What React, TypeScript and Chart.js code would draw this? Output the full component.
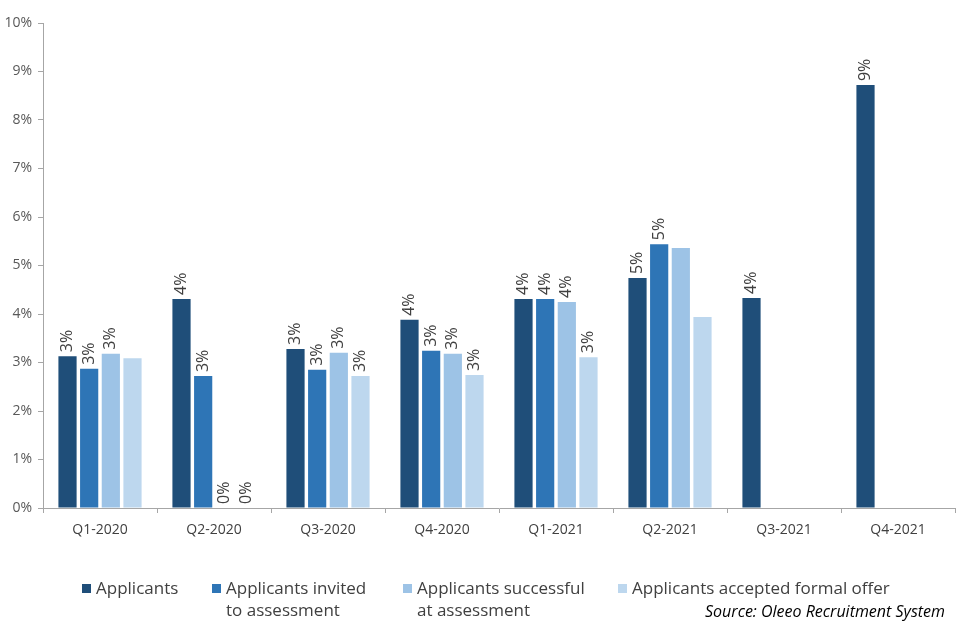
import React, { useEffect, useRef } from "react";
import { Chart, registerables } from "chart.js";

Chart.register(...registerables);

const categories = ["Q1-2020", "Q2-2020", "Q3-2020", "Q4-2020", "Q1-2021", "Q2-2021", "Q3-2021", "Q4-2021"];
const seriesNames = [
  ["Applicants"],
  ["Applicants invited", "to assessment"],
  ["Applicants successful", "at assessment"],
  ["Applicants accepted formal offer"],
];
const seriesColors = ["#1F4E79", "#2E75B6", "#9DC3E6", "#BDD7EE"];
const applicants = [3.13, 4.31, 3.28, 3.88, 4.31, 4.74, 4.33, 8.72];
const invited = [2.87, 2.72, 2.85, 3.24, 4.31, 5.44, null, null];
const successful = [3.18, 0, 3.2, 3.18, 4.25, 5.36, null, null];
const accepted = [3.09, 0, 2.72, 2.74, 3.11, 3.94, null, null];
const applicantsLabels = ["3%", "4%", "3%", "4%", "4%", "5%", "4%", "9%"];
const invitedLabels = ["3%", "3%", "3%", "3%", "4%", "5%", "", ""];
const successfulLabels = ["3%", "0%", "3%", "3%", "4%", "", "", ""];
const acceptedLabels = ["", "0%", "3%", "3%", "3%", "", "", ""];
const yTicks = [0, 1, 2, 3, 4, 5, 6, 7, 8, 9, 10];
const sourceText = "Source: Oleeo Recruitment System";

const FONT = '"Open Sans", sans-serif';

export default function App() {
  const ref = useRef<HTMLCanvasElement | null>(null);
  useEffect(() => {
    document.body.style.margin = "0";
    const values = [applicants, invited, successful, accepted];
    const labels = [applicantsLabels, invitedLabels, successfulLabels, acceptedLabels];

    const labelPlugin = {
      id: "barLabels",
      afterDatasetsDraw(chart: any) {
        const ctx = chart.ctx;
        ctx.save();
        ctx.font = `16px ${FONT}`;
        ctx.fillStyle = "#404040";
        ctx.textAlign = "left";
        ctx.textBaseline = "middle";
        chart.data.datasets.forEach((_: any, i: number) => {
          const meta = chart.getDatasetMeta(i);
          meta.data.forEach((bar: any, j: number) => {
            const t = labels[i][j];
            if (!t || values[i][j] === null) return;
            ctx.save();
            ctx.translate(bar.x, bar.y - 4);
            ctx.rotate(-Math.PI / 2);
            ctx.fillText(t, 0, 0);
            ctx.restore();
          });
        });
        ctx.restore();
      },
    };

    const legendPlugin = {
      id: "customLegend",
      afterDraw(chart: any) {
        const ctx = chart.ctx;
        ctx.save();
        const xs = [82, 212, 403, 618];
        ctx.font = `17px ${FONT}`;
        ctx.textBaseline = "middle";
        ctx.textAlign = "left";
        seriesNames.forEach((lines, i) => {
          ctx.fillStyle = seriesColors[i];
          ctx.fillRect(xs[i], 584, 9, 9);
          ctx.fillStyle = "#404040";
          lines.forEach((ln, k) => ctx.fillText(ln, xs[i] + 14, 589 + k * 22));
        });
        ctx.font = `italic 16px ${FONT}`;
        ctx.fillStyle = "#000000";
        ctx.textAlign = "right";
        ctx.fillText(sourceText, 945, 612);
        ctx.restore();
      },
    };

    const chart = new Chart(ref.current as HTMLCanvasElement, {
      type: "bar",
      data: {
        labels: categories,
        datasets: values.map((v, i) => ({
          label: seriesNames[i].join(" "),
          data: v,
          backgroundColor: seriesColors[i],
          borderWidth: 0,
          categoryPercentage: 0.76,
          barPercentage: 0.84,
        })),
      },
      options: {
        responsive: false,
        animation: false,
        layout: { padding: { top: 23, right: 5, left: 0, bottom: 0 } },
        plugins: { legend: { display: false }, tooltip: { enabled: false } },
        scales: {
          x: {
            afterFit(scale: any) {
              scale.height = 132;
            },
            border: { color: "#A6A6A6", width: 1 },
            grid: { display: true, drawOnChartArea: false, drawTicks: true, tickLength: 5, color: "#A6A6A6", offset: true },
            ticks: { color: "#404040", font: { family: FONT, size: 14 }, padding: 9 },
          },
          y: {
            min: 0,
            max: 10,
            afterFit(scale: any) {
              scale.width = 43;
            },
            afterBuildTicks(scale: any) {
              scale.ticks = yTicks.map((v) => ({ value: v }));
            },
            border: { color: "#A6A6A6", width: 1 },
            grid: { display: true, drawOnChartArea: false, drawTicks: true, tickLength: 5, color: "#A6A6A6" },
            ticks: {
              color: "#595959",
              font: { family: FONT, size: 14 },
              padding: 6,
              callback: (v: any) => `${v}%`,
            },
          },
        },
      },
      plugins: [labelPlugin, legendPlugin],
    });
    return () => chart.destroy();
  }, []);
  return <canvas ref={ref} width={960} height={640} style={{ display: "block" }} />;
}
